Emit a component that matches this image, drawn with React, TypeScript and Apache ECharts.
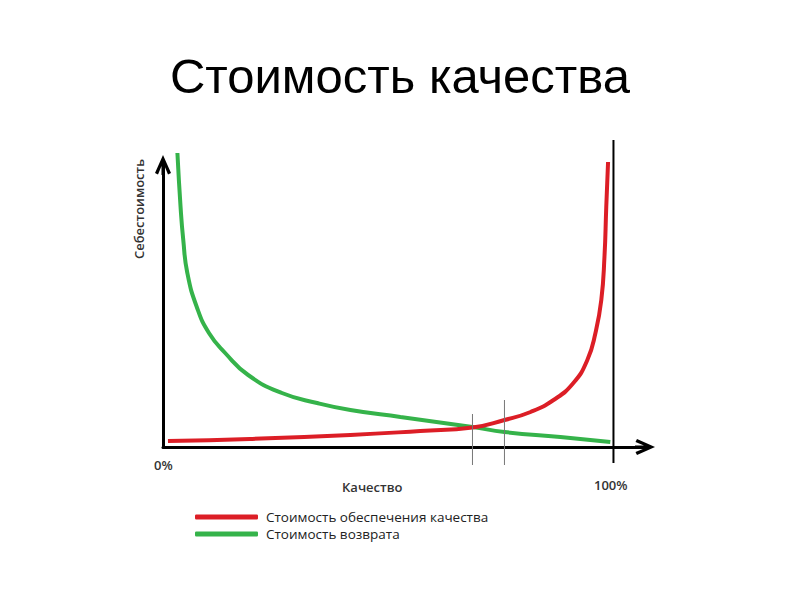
import React, { useEffect, useRef } from "react";
import * as echarts from "echarts";

// Quality (%) and cost (arbitrary units)
const assuranceQuality = [1.1, 19.3, 41.6, 57.1, 68.7, 75.8, 81.6, 86.7, 91.1, 94.2, 96, 97.3, 98, 98.4, 98.8];
const assuranceCost = [6, 8, 12, 16, 19.5, 27, 35, 47, 64, 87, 114, 147, 190, 240, 285];

const returnQuality = [3.2, 3.9, 4.5, 5.4, 7.5, 10.2, 13.8, 18.9, 26.4, 34.2, 41.6, 52.7, 68.7, 75.8, 88.2, 99.3];
const returnCost = [294, 240, 207, 174, 140, 114, 94, 72, 54, 44, 37, 30, 20, 15, 10, 5];

const fullQualityLine = [[100, -16], [100, 307]];
const markerA = [[68.7, 33], [68.7, -18]];
const markerB = [[75.8, 47], [75.8, -18]];

const seriesNames = ["Стоимость обеспечения качества", "Стоимость возврата"];
const titleText = "Стоимость качества";
const xName = "Качество";
const yName = "Себестоимость";
const xTickLabels = ["0%", "100%"];

const RED = "#dc1e26";
const GREEN = "#35b34a";

const chevron = "path://M8,0 L16,18 L13,19.5 L9.5,11 L9.5,20 L6.5,20 L6.5,11 L3,19.5 L0,18 Z";

export default function App() {
  const ref = useRef<HTMLDivElement>(null);
  useEffect(() => {
    if (!ref.current) return;
    const chart = echarts.init(ref.current, null, { renderer: "svg" });
    const axisCommon = {
      axisLine: {
        show: true,
        lineStyle: { color: "#000", width: 3 },
        symbol: ["none", chevron],
        symbolSize: [16, 20],
      },
      axisTick: { show: false },
      axisLabel: { show: false },
      splitLine: { show: false },
    };
    const zip = (xs: number[], ys: number[]) => xs.map((x, i) => [x, ys[i]]);
    const labelFont = { fontFamily: "Open Sans", fill: "#333" };
    chart.setOption({
      animation: false,
      backgroundColor: "#fff",
      title: {
        text: titleText,
        left: "center",
        top: 46,
        textStyle: { fontFamily: "Liberation Sans", fontSize: 49, fontWeight: "normal", color: "#000" },
      },
      grid: { left: 163, right: 155, top: 165, bottom: 153, containLabel: false },
      xAxis: { type: "value", min: 0, max: 107, ...axisCommon },
      yAxis: { type: "value", min: 0, max: 282, ...axisCommon },
      legend: {
        data: seriesNames,
        orient: "vertical",
        left: 190,
        top: 505,
        itemWidth: 63,
        itemHeight: 5,
        itemGap: 3,
        icon: "roundRect",
        textStyle: { fontFamily: "Open Sans", fontSize: 13.5, color: "#222", padding: [0, 0, 0, 3] },
      },
      series: [
        {
          name: seriesNames[1],
          type: "line",
          data: zip(returnQuality, returnCost),
          smooth: 0.5,
          symbol: "none",
          clip: false,
          color: GREEN,
          lineStyle: { color: GREEN, width: 4 },
          z: 3,
        },
        {
          name: seriesNames[0],
          type: "line",
          data: zip(assuranceQuality, assuranceCost),
          smooth: 0.5,
          symbol: "none",
          clip: false,
          color: RED,
          lineStyle: { color: RED, width: 4 },
          z: 4,
        },
        {
          name: "100",
          type: "line",
          data: fullQualityLine,
          symbol: "none",
          clip: false,
          silent: true,
          lineStyle: { color: "#000", width: 2 },
          z: 2,
        },
        {
          name: "m1",
          type: "line",
          data: markerA,
          symbol: "none",
          clip: false,
          silent: true,
          lineStyle: { color: "#777", width: 1 },
          z: 5,
        },
        {
          name: "m2",
          type: "line",
          data: markerB,
          symbol: "none",
          clip: false,
          silent: true,
          lineStyle: { color: "#777", width: 1 },
          z: 5,
        },
      ],
      graphic: [
        {
          type: "text",
          left: 154,
          top: 458,
          style: { text: xTickLabels[0], fontSize: 13, fontWeight: 600, ...labelFont },
        },
        {
          type: "text",
          left: 594,
          top: 478,
          style: { text: xTickLabels[1], fontSize: 13, fontWeight: 600, ...labelFont },
        },
        {
          type: "text",
          left: 342,
          top: 480,
          style: { text: xName, fontSize: 13, fontWeight: 600, ...labelFont },
        },
        {
          type: "text",
          x: 139,
          y: 209,
          rotation: Math.PI / 2,
          style: {
            text: yName,
            fontSize: 13,
            fontWeight: 600,
            align: "center",
            verticalAlign: "middle",
            ...labelFont,
          },
        },
      ],
    });
    return () => chart.dispose();
  }, []);
  return <div ref={ref} style={{ width: 800, height: 600, position: "absolute", left: 0, top: 0 }} />;
}
